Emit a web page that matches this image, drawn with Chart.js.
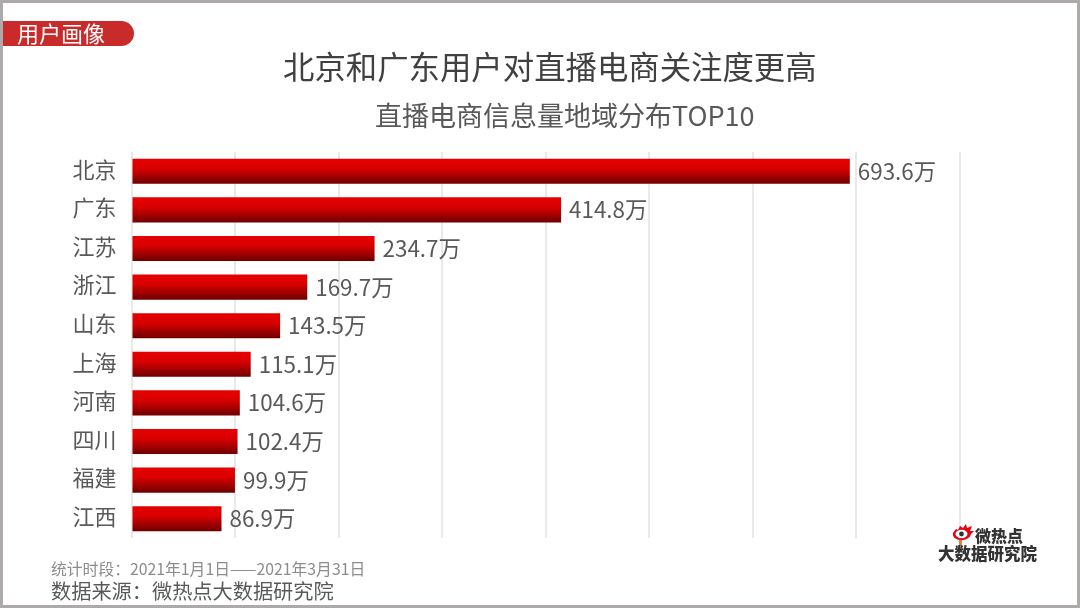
<!DOCTYPE html>
<html>
<head>
<meta charset="utf-8">
<script src="https://cdn.jsdelivr.net/npm/chart.js@4"></script>
<style>
  html, body { margin: 0; padding: 0; background: #fff; }
  #page { position: relative; width: 1080px; height: 608px; overflow: hidden; font-family: "Noto Sans CJK SC", "Noto Sans", sans-serif; }
  #frame { position: absolute; left: 0; top: 0; width: 1080px; height: 608px; box-sizing: border-box; border: 3px solid #aeaaaa; pointer-events: none; }
  canvas { position: absolute; left: 0; top: 0; }
  .txt { position: absolute; white-space: nowrap; line-height: 1; }
  #tag { left: 3px; top: 21px; width: 131px; height: 25px; background: #c92b2b; border-radius: 0 13px 13px 0; }
  #tagText { left: 17px; top: 21px; font-size: 22px; color: #fff; }
  #title { left: 283px; top: 50px; font-size: 31.4px; color: #404040; }
  #subtitle { left: 375px; top: 101px; font-size: 27px; color: #595959; }
  #period { left: 51px; top: 561px; font-size: 15.8px; color: #8c8c8c; }
  #source { left: 51px; top: 581px; font-size: 20.2px; color: #595959; }
  #logo1 { left: 975px; top: 527px; font-size: 16px; font-weight: 900; color: #333; }
  #logo2 { left: 938px; top: 545px; font-size: 16.5px; font-weight: 900; color: #333; }
  #eye { position: absolute; left: 952px; top: 523px; }
</style>
</head>
<body>
<div id="page">
  <canvas id="chart" width="1080" height="608"></canvas>
  <div id="tag" class="txt"></div>
  <div id="tagText" class="txt">用户画像</div>
  <div id="title" class="txt">北京和广东用户对直播电商关注度更高</div>
  <div id="subtitle" class="txt">直播电商信息量地域分布TOP10</div>
  <div id="period" class="txt">统计时段：2021年1月1日——2021年3月31日</div>
  <div id="source" class="txt">数据来源：微热点大数据研究院</div>
  <svg id="eye" width="24" height="24" viewBox="0 0 24 24">
    <path d="M1 10 L4 6 L6 7 L8 3 L11 5 L14 1 L15 5 L20 3 L18 8 L22 8 L19 11 C18 15 14 17 9 17 C4 17 0 14 1 10 Z" fill="#e60012"/>
    <ellipse cx="9.5" cy="11" rx="6" ry="4.2" fill="#fff"/>
    <circle cx="9.5" cy="11" r="2.4" fill="#333"/>
    <rect x="7" y="17" width="3" height="6" fill="#ee7d31"/>
  </svg>
  <div id="logo1" class="txt">微热点</div>
  <div id="logo2" class="txt">大数据研究院</div>
  <div id="frame"></div>
</div>
<script>
const provinces = ['北京', '广东', '江苏', '浙江', '山东', '上海', '河南', '四川', '福建', '江西'];
const volumes = [693.6, 414.8, 234.7, 169.7, 143.5, 115.1, 104.6, 102.4, 99.9, 86.9];
const unit = '万';
const axisMax = 800;
const axisStep = 100;

// value text at the end of every bar
const barLabels = {
    id: 'barLabels',
    afterDatasetsDraw(chart) {
        const ctx = chart.ctx;
        ctx.save();
        ctx.font = '22.4px "Noto Sans CJK SC"';
        ctx.fillStyle = '#595959';
        ctx.textBaseline = 'middle';
        chart.getDatasetMeta(0).data.forEach((bar, i) => {
            ctx.fillText(volumes[i].toFixed(1) + unit, bar.x + 8, bar.y);
        });
        ctx.restore();
    }
};

function barGradient(context) {
    const chart = context.chart;
    const yScale = chart.scales.y;
    const middle = yScale ? yScale.getPixelForValue(context.dataIndex) : NaN;
    if (!Number.isFinite(middle)) return '#c00000';
    const half = 12.5;
    const g = chart.ctx.createLinearGradient(0, middle - half, 0, middle + half);
    g.addColorStop(0, '#e60000');
    g.addColorStop(0.4, '#d80000');
    g.addColorStop(1, '#6e0000');
    return g;
}

new Chart(document.getElementById('chart'), {
    type: 'bar',
    data: {
        labels: provinces,
        datasets: [{
            data: volumes,
            backgroundColor: barGradient,
            barPercentage: 0.65,
            categoryPercentage: 1
        }]
    },
    options: {
        indexAxis: 'y',
        responsive: false,
        animation: false,
        devicePixelRatio: 1,
        layout: { padding: { left: 0, top: 152, right: 120, bottom: 70 } },
        plugins: { legend: { display: false }, tooltip: { enabled: false } },
        scales: {
            x: {
                min: 0,
                max: axisMax,
                ticks: { display: false, stepSize: axisStep },
                grid: { color: '#e9e9e9', lineWidth: 2, drawTicks: false },
                border: { display: false }
            },
            y: {
                afterFit(scale) { scale.width = 131.5; },
                ticks: { color: '#595959', padding: 15, labelOffset: -2, font: { size: 22, family: '"Noto Sans CJK SC"' } },
                grid: { display: false, drawTicks: false },
                border: { display: false }
            }
        }
    },
    plugins: [barLabels]
});
</script>
</body>
</html>
